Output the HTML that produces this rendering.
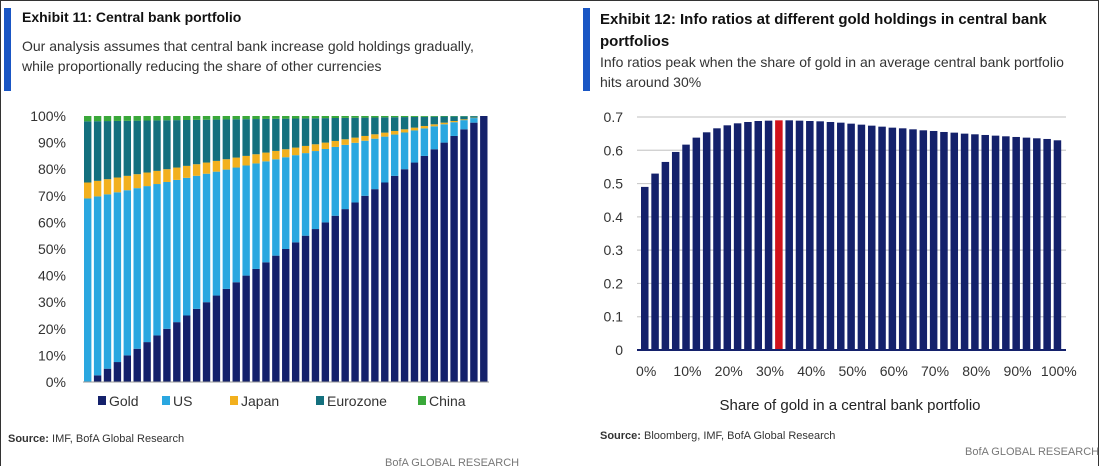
<!DOCTYPE html>
<html><head><meta charset="utf-8">
<style>
body{margin:0;width:1099px;height:467px;background:#fff;overflow:hidden;font-family:"Liberation Sans",sans-serif;color:#222;position:relative}
.abs{position:absolute;white-space:nowrap}
.accent{position:absolute;width:7px;background:#1a56c4}
.t{font-weight:bold;font-size:15px;color:#111}
.s{font-size:14px;color:#333}
.src{font-size:11px;color:#333}
</style></head><body>
<div class="abs" style="left:0;top:0;width:1097px;height:465px;border:1px solid #333;border-bottom:none"></div>
<div class="accent" style="left:4px;top:8px;height:83px"></div>
<div class="abs t" style="left:22px;top:9px;font-size:14px">Exhibit 11: Central bank portfolio</div>
<div class="abs s" style="left:22px;top:36px;line-height:20px">Our analysis assumes that central bank increase gold holdings gradually,<br>while proportionally reducing the share of other currencies</div>
<div class="accent" style="left:583px;top:8px;height:83px"></div>
<div class="abs t" style="left:600px;top:9px;line-height:22px">Exhibit 12: Info ratios at different gold holdings in central bank<br>portfolios</div>
<div class="abs s" style="left:600px;top:52px;line-height:20px">Info ratios peak when the share of gold in an average central bank portfolio<br>hits around 30%</div>
<svg class="abs" style="left:0;top:0" width="1099" height="467" id="svg"></svg>
<div class="abs src" style="left:8px;top:433px"><b>Source:</b> IMF, BofA Global Research</div>
<div class="abs src" style="left:600px;top:430px"><b>Source:</b> Bloomberg, IMF, BofA Global Research</div>
<div class="abs src" style="left:385px;top:457px;color:#777">BofA GLOBAL RESEARCH</div>
<div class="abs src" style="left:965px;top:446px;color:#777">BofA GLOBAL RESEARCH</div>
<script>
const categoriesRight=["0%","10%","20%","30%","40%","50%","60%","70%","80%","90%","100%"];
const infoRatios=[0.49,0.53,0.565,0.595,0.617,0.638,0.654,0.666,0.675,0.681,0.685,0.688,0.689,0.690,0.690,0.689,0.688,0.687,0.685,0.683,0.680,0.677,0.674,0.671,0.668,0.666,0.663,0.660,0.658,0.655,0.653,0.650,0.648,0.646,0.644,0.642,0.640,0.638,0.636,0.634,0.630];
const peakIndex=13;
const rightTicks=[0,0.1,0.2,0.3,0.4,0.5,0.6,0.7];
const leftTicks=[0,10,20,30,40,50,60,70,80,90,100];
const goldSteps=41;
const otherShares=[69,6,23,2]; // US, Japan, Eurozone, China at 0% gold
const seriesNames=["Gold","US","Japan","Eurozone","China"];
const seriesColors=["#14216b","#2aa7e0","#f2b01e","#14707e","#3aa83a"];
const NS="http://www.w3.org/2000/svg";
const svg=document.getElementById('svg');
function mk(tag,attrs,parent){const e=document.createElementNS(NS,tag);for(const k in attrs)e.setAttribute(k,attrs[k]);(parent||svg).appendChild(e);return e;}
// Left chart
const L={x0:83,x1:489,y0:382,y1:116};
const ly=v=>L.y0-(v/100)*(L.y0-L.y1);
const lpitch=(L.x1-L.x0)/goldSteps;
leftTicks.forEach(t=>{const tx=mk('text',{x:66,y:ly(t)+5,'text-anchor':'end','font-size':14,fill:'#333'});tx.textContent=t+'%';

});
for(let i=0;i<goldSteps;i++){
 const g=i*100/(goldSteps-1);
 const vals=[g,...otherShares.map(s=>s*(1-g/100))];
 let acc=0;
 vals.forEach((v,k)=>{
  if(v<=0)return;
  const r=mk('rect',{x:L.x0+i*lpitch+1,width:lpitch-2.5,y:ly(acc+v),height:ly(acc)-ly(acc+v),fill:seriesColors[k]});
  
  
  acc+=v;});
}
mk('line',{x1:L.x0,x2:L.x1,y1:L.y0,y2:L.y0,stroke:'#999','stroke-width':1});
// legend
const legX=[98,162,230,316,418];
seriesNames.forEach((n,k)=>{
 const g=mk('g',{});
 
 
 mk('rect',{x:legX[k],y:396,width:8,height:9,fill:seriesColors[k]},g);
 const t=mk('text',{x:legX[k]+11,y:406,'font-size':14,fill:'#333'},g);t.textContent=n;
});
// Right chart
const R={x0:640,x1:1063,y0:350,y1:117};
const ry=v=>R.y0-(v/0.7)*(R.y0-R.y1);
const rpitch=(R.x1-R.x0)/infoRatios.length;
rightTicks.forEach(t=>{
 const gl=mk('line',{x1:R.x0-3,x2:R.x1+3,y1:ry(t),y2:ry(t),stroke:'#ccc','stroke-width':1.2});
 
 
 const tx=mk('text',{x:623,y:ry(t)+5,'text-anchor':'end','font-size':14,fill:'#333'});tx.textContent=t===0?'0':t.toFixed(1);
 
 
});
infoRatios.forEach((v,i)=>{
 const r=mk('rect',{x:R.x0+i*rpitch+1,width:rpitch-2.8,y:ry(v),height:R.y0-ry(v),fill:i===peakIndex?'#d0121b':'#14216b'});
 
 
});
mk('line',{x1:R.x0-3,x2:R.x1+3,y1:R.y0,y2:R.y0,stroke:'#14216b','stroke-width':2});
categoriesRight.forEach((c,k)=>{
 const idx=k*4;
 const tx=mk('text',{x:R.x0+idx*rpitch+rpitch/2+1,y:376,'text-anchor':'middle','font-size':14,fill:'#333'});tx.textContent=c;
 
 
});
const xt=mk('text',{x:850,y:410,'text-anchor':'middle','font-size':15,fill:'#222'});xt.textContent='Share of gold in a central bank portfolio';


</script>
</body></html>
